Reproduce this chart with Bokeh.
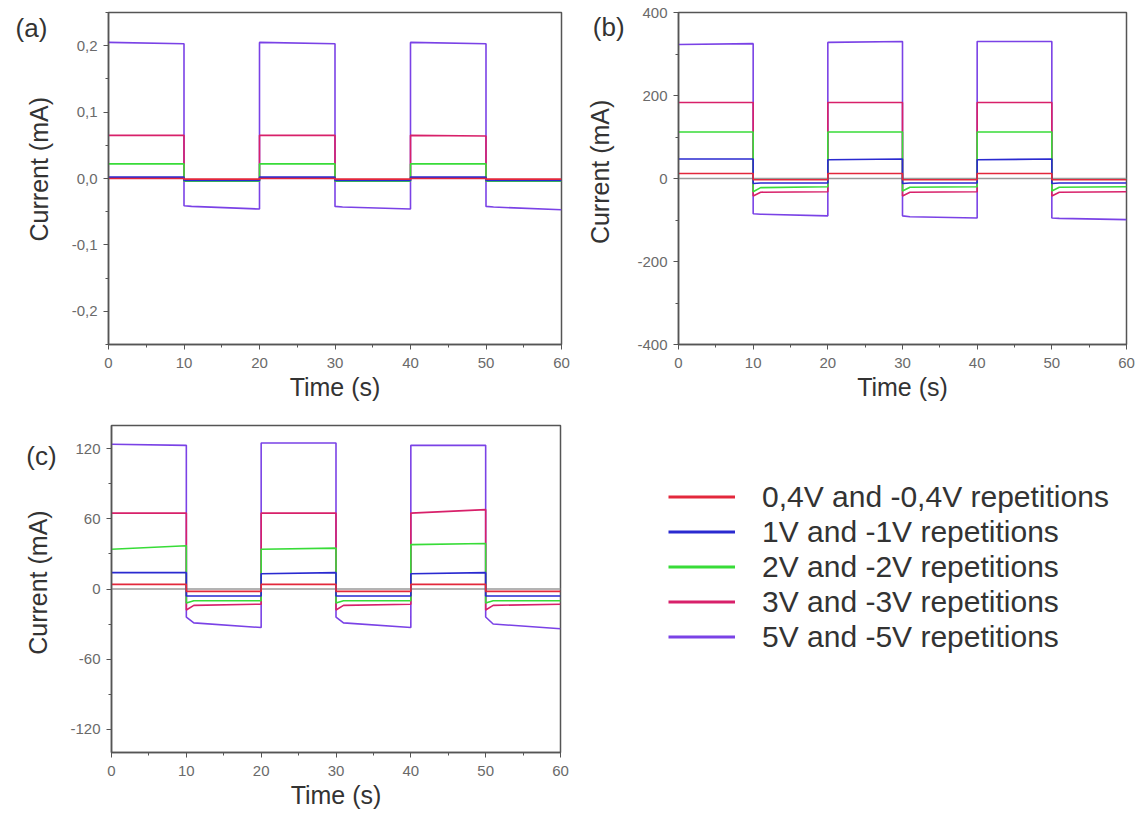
import math
from bokeh.plotting import figure
from bokeh.models import (Range1d, SingleIntervalTicker, CustomJSTickFormatter,
                          Label, Legend, LegendItem, Span)
from bokeh.layouts import row, column
from bokeh.embed import file_html
from bokeh.resources import INLINE

# ---------------- data ----------------
# time breakpoints (s): on-phase start/end, off-phase spike, settle, end
TIME = [0, 10, 10, 11, 20, 20, 30, 30, 31, 40, 40, 50, 50, 51, 60]

LABELS = ["0,4V and -0,4V repetitions", "1V and -1V repetitions",
          "2V and -2V repetitions", "3V and -3V repetitions",
          "5V and -5V repetitions"]
COLORS = ["#e3283c", "#2a2ad0", "#38dc38", "#d8206a", "#7a42e6"]
TAGS = ["(a)", "(b)", "(c)"]

# panel (a), mA
A_04 = [0.000, 0.000, -0.001, -0.001, -0.001, 0.000, 0.000, -0.001, -0.001, -0.001, 0.000, 0.000, -0.001, -0.001, -0.001]
A_1 = [0.002, 0.002, -0.003, -0.003, -0.003, 0.002, 0.002, -0.003, -0.003, -0.003, 0.002, 0.002, -0.003, -0.003, -0.003]
A_2 = [0.022, 0.022, -0.004, -0.004, -0.004, 0.022, 0.022, -0.004, -0.004, -0.004, 0.022, 0.022, -0.004, -0.004, -0.004]
A_3 = [0.065, 0.065, -0.004, -0.003, -0.003, 0.065, 0.065, -0.004, -0.003, -0.003, 0.065, 0.064, -0.004, -0.003, -0.003]
A_5 = [0.205, 0.203, -0.041, -0.042, -0.046, 0.205, 0.203, -0.042, -0.043, -0.046, 0.205, 0.203, -0.042, -0.043, -0.047]

# panel (b), mA
B_04 = [12, 12, -3, -3, -3, 12, 12, -3, -3, -3, 12, 12, -3, -3, -3]
B_1 = [47, 47, -12, -11, -11, 45, 47, -12, -11, -11, 45, 47, -12, -11, -11]
B_2 = [112, 112, -32, -22, -20, 112, 112, -30, -21, -20, 112, 112, -30, -21, -20]
B_3 = [183, 183, -42, -33, -32, 183, 183, -42, -33, -32, 183, 183, -42, -33, -32]
B_5 = [323, 325, -85, -86, -90, 328, 330, -90, -92, -95, 330, 330, -95, -96, -99]

# panel (c), mA
C_04 = [4, 4, -2, -2, -2, 4, 4, -2, -2, -2, 4, 4, -2, -2, -2]
C_1 = [14, 14, -6, -6, -6, 13, 14, -6, -6, -6, 13, 14, -6, -6, -6]
C_2 = [34, 37, -12, -10, -10, 34, 35, -12, -10, -10, 38, 39, -12, -10, -10]
C_3 = [65, 65, -18, -14, -13, 65, 65, -18, -14, -13, 65, 68, -18, -14, -13]
C_5 = [124, 123, -24, -29, -33, 125, 125, -24, -29, -33, 123, 123, -24, -30, -34]

X_TICK_STEP = 10
FONT = "Liberation Sans"
NAN = float("nan")


def make_panel(series, ylim, ystep, w, h, borders, ydigits, zero_line,
               tag, tag_xy, ylab_xy):
    p = figure(width=w, height=h, output_backend="svg", toolbar_location=None,
               x_range=Range1d(0, 60), y_range=Range1d(*ylim),
               min_border_left=borders[0], min_border_right=borders[1],
               min_border_top=borders[2], min_border_bottom=borders[3])
    p.grid.visible = False
    p.outline_line_color = "#555555"
    p.outline_line_width = 1.5
    if zero_line:
        p.add_layout(Span(location=0, dimension="width", line_color="#9a9a9a",
                          line_width=1.5, level="underlay"))
    for vals, col in reversed(list(zip(series, COLORS))):
        p.line(TIME, vals, line_color=col, line_width=1.6)
    p.xaxis.ticker = SingleIntervalTicker(interval=X_TICK_STEP, num_minor_ticks=2)
    p.yaxis.ticker = SingleIntervalTicker(interval=ystep, num_minor_ticks=2)
    p.yaxis.formatter = CustomJSTickFormatter(
        args=dict(d=ydigits),
        code="return tick.toFixed(d).replace('.', ',');")
    for ax in (p.xaxis[0], p.yaxis[0]):
        ax.axis_line_color = "#555555"
        ax.axis_line_width = 1.5
        ax.major_tick_line_color = "#555555"
        ax.minor_tick_line_color = "#555555"
        ax.major_tick_out = 5
        ax.major_tick_in = 0
        ax.minor_tick_out = 3
        ax.minor_tick_in = 0
        ax.major_label_text_font = FONT
        ax.major_label_text_font_size = "15px"
        ax.major_label_text_color = "#6a6a6a"
        ax.major_label_standoff = 6
        ax.axis_label_text_font = FONT
        ax.axis_label_text_font_size = "25px"
        ax.axis_label_text_font_style = "normal"
        ax.axis_label_text_color = "#333333"
    p.xaxis.major_label_standoff = 8
    p.xaxis.axis_label = "Time (s)"
    p.xaxis.axis_label_standoff = 2
    # panel tag and y-axis title live in the left side panel (outside the frame)
    p.add_layout(Label(x=tag_xy[0], y=tag_xy[1], text=tag, text_align="center",
                       text_baseline="middle", text_font=FONT,
                       text_font_size="26px", text_color="#333333"), "left")
    p.add_layout(Label(x=ylab_xy[0], y=ylab_xy[1], text="Current (mA)",
                       angle=math.pi / 2, text_align="center",
                       text_baseline="middle", text_font=FONT,
                       text_font_size="25px", text_color="#333333"), "left")
    return p


pa = make_panel([A_04, A_1, A_2, A_3, A_5], (-0.25, 0.25), 0.1,
                574, 408, (108, 13, 12, 64), 1, False,
                TAGS[0], (-10.2, 0.226), (-9.27, 0.014))
pb = make_panel([B_04, B_1, B_2, B_3, B_5], (-400, 400), 200,
                565, 408, (103, 13, 12, 64), 0, True,
                TAGS[1], (-9.35, 366), (-10.56, 16))
pc = make_panel([C_04, C_1, C_2, C_3, C_5], (-140, 140), 60,
                574, 403, (111, 14, 17, 55), 0, True,
                TAGS[2], (-9.35, 113.8), (-9.76, 5.5))

# legend panel
pd = figure(width=565, height=403, output_backend="svg", toolbar_location=None,
            x_range=Range1d(0, 1), y_range=Range1d(0, 1),
            min_border_left=0, min_border_right=0, min_border_top=0, min_border_bottom=0)
pd.axis.visible = False
pd.grid.visible = False
pd.outline_line_color = None
items = []
for lab, col in zip(LABELS, COLORS):
    r = pd.line([NAN], [NAN], line_color=col, line_width=3)
    items.append(LegendItem(label=lab, renderers=[r]))
leg = Legend(items=items, location=(94, 98), glyph_width=67, glyph_height=35,
             label_height=35, spacing=0, padding=0, margin=0, label_standoff=27,
             border_line_color=None, background_fill_alpha=0,
             label_text_font=FONT, label_text_font_size="30px",
             label_text_color="#333333")
pd.add_layout(leg)

layout = column(row(pa, pb), row(pc, pd))
open("out.html", "w").write(file_html(layout, INLINE))
